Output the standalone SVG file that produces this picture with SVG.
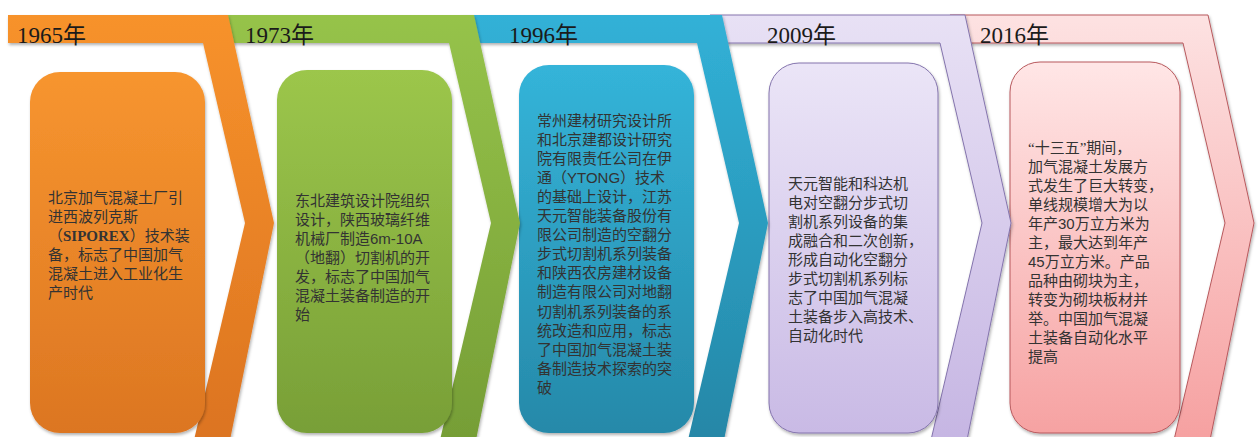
<svg xmlns="http://www.w3.org/2000/svg" width="1258" height="437" viewBox="0 0 1258 437">
<defs>
  <style>
    .yr{font-family:"Liberation Serif","Noto Sans CJK SC",serif;font-size:23px;fill:#1a1a1a}
    .tx{font-family:"Liberation Serif","Noto Sans CJK SC",sans-serif;font-size:15px;fill:#333}
    .lat{font-family:"Liberation Sans",sans-serif}
    .lav{stroke:#8474ad;stroke-width:1}
    .pk{stroke:#b8595d;stroke-width:1}
  </style>
  <filter id="sh" x="-10%" y="-10%" width="130%" height="130%">
    <feDropShadow dx="1" dy="2" stdDeviation="1.5" flood-color="#000" flood-opacity="0.3"/>
  </filter>
  <linearGradient id="cO" gradientUnits="userSpaceOnUse" x1="0" y1="15" x2="0" y2="437"><stop offset="0" stop-color="#f7922b"/><stop offset="1" stop-color="#dc7421"/></linearGradient>
  <linearGradient id="cG" gradientUnits="userSpaceOnUse" x1="0" y1="15" x2="0" y2="437"><stop offset="0" stop-color="#96c34a"/><stop offset="1" stop-color="#769e36"/></linearGradient>
  <linearGradient id="cB" gradientUnits="userSpaceOnUse" x1="0" y1="15" x2="0" y2="437"><stop offset="0" stop-color="#31b1d7"/><stop offset="1" stop-color="#2587a7"/></linearGradient>
  <linearGradient id="cL" gradientUnits="userSpaceOnUse" x1="0" y1="15" x2="0" y2="437"><stop offset="0" stop-color="#e8e1f5"/><stop offset="1" stop-color="#c6b6e3"/></linearGradient>
  <linearGradient id="cP" gradientUnits="userSpaceOnUse" x1="0" y1="15" x2="0" y2="437"><stop offset="0" stop-color="#fde2e2"/><stop offset="1" stop-color="#f6a1a1"/></linearGradient>
  <linearGradient id="bO" x1="0" y1="0" x2="0" y2="1"><stop offset="0" stop-color="#f7952f"/><stop offset="1" stop-color="#dc7622"/></linearGradient>
  <linearGradient id="bG" x1="0" y1="0" x2="0" y2="1"><stop offset="0" stop-color="#9cc64b"/><stop offset="1" stop-color="#789f37"/></linearGradient>
  <linearGradient id="bB" x1="0" y1="0" x2="0" y2="1"><stop offset="0" stop-color="#34b4d9"/><stop offset="1" stop-color="#2689a9"/></linearGradient>
  <linearGradient id="bL" x1="0" y1="0" x2="0" y2="1"><stop offset="0" stop-color="#ebe5f7"/><stop offset="1" stop-color="#c9bae5"/></linearGradient>
  <linearGradient id="bP" x1="0" y1="0" x2="0" y2="1"><stop offset="0" stop-color="#ffe6e6"/><stop offset="1" stop-color="#f6a2a2"/></linearGradient>
</defs>
<rect width="1258" height="437" fill="#fff"/>
<g id="connectors"/>

<g id="node-2016">
  <polygon class="pk" fill="url(#cP)" filter="url(#sh)" points="950,15 1208,15 1254,223 1210,440 1174,440 1225,223 1183,43 950,43"/>
  <rect class="pk" fill="url(#bP)" filter="url(#sh)" x="1010" y="62" width="170" height="371" rx="30"/>
  <text class="yr" x="980" y="43">2016年</text>
  <text class="tx" x="1028">
    <tspan x="1028" y="152.5">“十三五”期间，</tspan>
    <tspan x="1028" y="171.5">加气混凝土发展方</tspan>
    <tspan x="1028" y="190.5">式发生了巨大转变，</tspan>
    <tspan x="1028" y="209.5">单线规模增大为以</tspan>
    <tspan x="1028" y="228.5">年产<tspan class="lat">30</tspan>万立方米为</tspan>
    <tspan x="1028" y="247.5">主，最大达到年产</tspan>
    <tspan x="1028" y="266.5"><tspan class="lat">45</tspan>万立方米。产品</tspan>
    <tspan x="1028" y="285.5">品种由砌块为主，</tspan>
    <tspan x="1028" y="304.5">转变为砌块板材并</tspan>
    <tspan x="1028" y="323.5">举。中国加气混凝</tspan>
    <tspan x="1028" y="342.5">土装备自动化水平</tspan>
    <tspan x="1028" y="361.5">提高</tspan>
  </text>
</g>

<g id="node-2009">
  <polygon class="lav" fill="url(#cL)" filter="url(#sh)" points="710,15 965,15 1011,223 967,440 931,440 982,223 940,43 710,43"/>
  <rect class="lav" fill="url(#bL)" filter="url(#sh)" x="769" y="63" width="169" height="370" rx="30"/>
  <text class="yr" x="767" y="43">2009年</text>
  <text class="tx">
    <tspan x="788" y="188.5">天元智能和科达机</tspan>
    <tspan x="788" y="207.5">电对空翻分步式切</tspan>
    <tspan x="788" y="226.5">割机系列设备的集</tspan>
    <tspan x="788" y="245.5">成融合和二次创新，</tspan>
    <tspan x="788" y="264.5">形成自动化空翻分</tspan>
    <tspan x="788" y="283.5">步式切割机系列标</tspan>
    <tspan x="788" y="302.5">志了中国加气混凝</tspan>
    <tspan x="788" y="321.5">土装备步入高技术、</tspan>
    <tspan x="788" y="340.5">自动化时代</tspan>
  </text>
</g>

<g id="node-1996">
  <polygon fill="url(#cB)" filter="url(#sh)" points="460,15 722,15 768,223 724,440 688,440 739,223 697,43 460,43"/>
  <rect fill="url(#bB)" filter="url(#sh)" x="519" y="65" width="175" height="368" rx="30"/>
  <text class="yr" x="509" y="43">1996年</text>
  <text class="tx">
    <tspan x="537" y="125.5">常州建材研究设计所</tspan>
    <tspan x="537" y="144.6">和北京建都设计研究</tspan>
    <tspan x="537" y="163.7">院有限责任公司在伊</tspan>
    <tspan x="537" y="182.8">通（<tspan class="lat">YTONG</tspan>）技术</tspan>
    <tspan x="537" y="201.9">的基础上设计，江苏</tspan>
    <tspan x="537" y="221">天元智能装备股份有</tspan>
    <tspan x="537" y="240.1">限公司制造的空翻分</tspan>
    <tspan x="537" y="259.2">步式切割机系列装备</tspan>
    <tspan x="537" y="278.3">和陕西农房建材设备</tspan>
    <tspan x="537" y="297.4">制造有限公司对地翻</tspan>
    <tspan x="537" y="316.5">切割机系列装备的系</tspan>
    <tspan x="537" y="335.6">统改造和应用，标志</tspan>
    <tspan x="537" y="354.7">了中国加气混凝土装</tspan>
    <tspan x="537" y="373.8">备制造技术探索的突</tspan>
    <tspan x="537" y="392.9">破</tspan>
  </text>
</g>

<g id="node-1973">
  <polygon fill="url(#cG)" filter="url(#sh)" points="215,15 474,15 520,223 476,440 440,440 491,223 449,43 215,43"/>
  <rect fill="url(#bG)" filter="url(#sh)" x="277" y="70" width="175" height="363" rx="30"/>
  <text class="yr" x="245" y="43">1973年</text>
  <text class="tx">
    <tspan x="295" y="205.5">东北建筑设计院组织</tspan>
    <tspan x="295" y="224.5">设计，陕西玻璃纤维</tspan>
    <tspan x="295" y="243.5">机械厂制造<tspan class="lat">6m-10A</tspan></tspan>
    <tspan x="295" y="262.5">（地翻）切割机的开</tspan>
    <tspan x="295" y="281.5">发，标志了中国加气</tspan>
    <tspan x="295" y="300.5">混凝土装备制造的开</tspan>
    <tspan x="295" y="319.5">始</tspan>
  </text>
</g>

<g id="node-1965">
  <polygon fill="url(#cO)" filter="url(#sh)" points="8,15 228,15 274,223 230,440 194,440 245,223 203,43 8,43"/>
  <rect fill="url(#bO)" filter="url(#sh)" x="30" y="72" width="175" height="361" rx="30"/>
  <text class="yr" x="17" y="43">1965年</text>
  <text class="tx">
    <tspan x="48" y="202.5">北京加气混凝土厂引</tspan>
    <tspan x="48" y="221.5">进西波列克斯</tspan>
    <tspan x="48" y="240.5">（<tspan font-weight="bold">SIPOREX</tspan>）技术装</tspan>
    <tspan x="48" y="259.5">备，标志了中国加气</tspan>
    <tspan x="48" y="278.5">混凝土进入工业化生</tspan>
    <tspan x="48" y="297.5">产时代</tspan>
  </text>
</g>
</svg>
